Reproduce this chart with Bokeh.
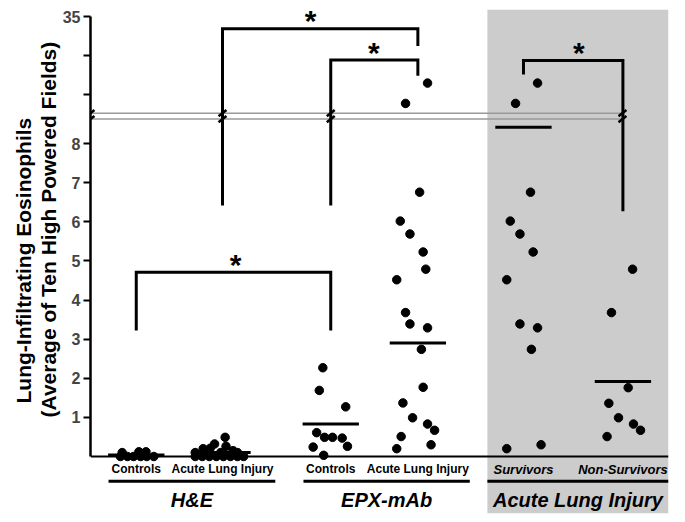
import numpy as np
from bokeh.plotting import figure
from bokeh.models import Range1d, FixedTicker, Title, NumeralTickFormatter
from bokeh.core.properties import value
from bokeh.embed import file_html
from bokeh.resources import INLINE

FONT = "Liberation Sans"

# ---------------- data ----------------
groups = ["H&E", "EPX-mAb", "Acute Lung Injury"]
categories = ["Controls", "Acute Lung Injury", "Controls", "Acute Lung Injury",
              "Survivors", "Non-Survivors"]

he_controls = [0.10, 0.12, 0.12, 0, 0, 0, 0, 0, 0]
he_ali = [0.49, 0.32, 0.20, 0.21, 0.26, 0.15, 0.10, 0.10, 0.10,
          0, 0, 0, 0, 0, 0, 0, 0]
epx_controls = [2.27, 1.69, 1.27, 0.61, 0.49, 0.49, 0.47, 0.24, 0.26, 0.03]
epx_ali = [26.5, 23.9, 6.76, 6.02, 5.69, 5.23, 4.79, 4.52, 3.68, 3.39, 3.29,
           2.74, 1.77, 1.37, 0.99, 0.83, 0.67, 0.51, 0.20, 0.30]
survivors = [26.5, 23.9, 6.76, 6.02, 5.69, 5.23, 4.52, 3.39, 3.29, 2.74,
             0.20, 0.30]
non_survivors = [4.79, 3.68, 1.76, 1.36, 0.99, 0.83, 0.67, 0.51]

means = [0.04, 0.10, 0.83, 2.90, 8.42, 1.92]

lower_ticks = [1, 2, 3, 4, 5, 6, 7, 8]
upper_ticks = [25, 30, 35]
upper_tick_labels = ["", "", "35"]

y_title_1 = "Lung-Infiltrating  Eosinophils"
y_title_2 = "(Average of Ten High Powered Fields)"

# ---------------- positions / layout ----------------
pos = [0.52, 1.50, 2.73, 3.72, 4.92, 6.05]
jit = [
    [-0.16, 0.03, 0.11, -0.18, -0.10, -0.03, 0.05, 0.12, 0.20],
    [0.03, -0.09, -0.22, -0.14, 0.04, 0.12, -0.31, -0.02, 0.17,
     -0.31, -0.23, -0.15, -0.07, 0.01, 0.09, 0.17, 0.24],
    [-0.09, -0.13, 0.17, -0.16, -0.07, 0.02, 0.13, -0.20, 0.19, -0.08],
    [0.11, -0.14, 0.02, -0.20, -0.09, 0.06, 0.09, -0.24, -0.14, -0.09,
     0.11, 0.04, 0.06, -0.17, -0.06, 0.11, 0.19, -0.19, -0.24, 0.15],
    [0.16, -0.09, 0.08, -0.15, -0.04, 0.11, -0.19, -0.04, 0.16, 0.09,
     -0.19, 0.20],
    [0.11, -0.13, 0.06, -0.16, -0.05, 0.12, 0.20, -0.18],
]
series = [he_controls, he_ali, epx_controls, epx_ali, survivors, non_survivors]

PX = 39.1  # pixels per lower-axis unit


def ty(v):
    """broken y axis: 0..8.6 linear, then 25..35 compressed (5 per unit)."""
    v = np.asarray(v, dtype=float)
    return np.where(v < 8.7, v, 11.25 - (35.0 - v) / 5.0)


p = figure(width=685, height=522, output_backend="svg", toolbar_location=None,
           x_range=Range1d(0, 6.568), y_range=Range1d(-1.458, 11.432),
           x_axis_location=None, min_border_left=90, min_border_right=17,
           min_border_top=9, min_border_bottom=9)
p.outline_line_color = None
p.xgrid.visible = False
p.ygrid.visible = False

# y axis
ax = p.yaxis[0]
tick_pos = list(lower_ticks) + [float(t) for t in ty(upper_ticks)]
ax.ticker = FixedTicker(ticks=tick_pos)
ax.formatter = NumeralTickFormatter(format="0")
ax.major_label_overrides = {float(t): lab for t, lab in zip(ty(upper_ticks), upper_tick_labels)}
ax.bounds = (0, float(ty(35)))
ax.axis_line_width = 2.5
ax.major_tick_line_width = 2
ax.major_tick_out = 7
ax.major_tick_in = 0
ax.minor_tick_line_color = None
ax.major_label_text_font = FONT
ax.major_label_text_font_style = "bold"
ax.major_label_text_font_size = "16px"
ax.major_label_standoff = 3

# y axis titles (two lines)
for txt, off in ((y_title_2, 96), (y_title_1, 110)):
    p.add_layout(Title(text=txt, align="left", offset=off, standoff=0,
                       text_font=FONT, text_font_style="bold",
                       text_font_size="21px", text_color="black"), "left")

# gray panel
p.quad(left=[4.51], right=[6.568], bottom=[-1.458], top=[11.432],
       fill_color="#cccccc", line_color=None)

# break lines
for yb in (8.63, 8.78):
    p.segment(x0=[0], y0=[yb], x1=[6.045], y1=[yb], line_color="#9a9a9a", line_width=1.5)

# baseline
p.segment(x0=[0], y0=[0], x1=[6.568], y1=[0], line_color="black", line_width=2)

# brackets
br_x1 = [pos[0], pos[1], pos[2], pos[4]]
br_x2 = [pos[2], pos[3], pos[3], pos[5]]
br_top = [4.71, 10.94, 10.14, 10.13]
br_e1 = [3.22, 6.42, 6.42, 9.77]
br_e2 = [3.22, 10.50, 9.74, 6.27]
p.multi_line(xs=[[a, a, b, b] for a, b in zip(br_x1, br_x2)],
             ys=[[e1, t, t, e2] for e1, t, e2 in zip(br_e1, br_top, br_e2)],
             line_color="black", line_width=3, line_join="miter")

# slashes on break
for xb in (0.0, pos[1], pos[2], 6.045):
    for yb in (8.63, 8.78):
        p.segment(x0=[xb - 0.045], y0=[yb - 0.08], x1=[xb + 0.045], y1=[yb + 0.08],
                  line_color="black", line_width=2.5)

# stars
star_x = [1.65, 2.50, 3.22, 5.55]
star_y = [5.01, 11.25, 10.43, 10.43]
p.text(x=star_x, y=[s - 4 / PX for s in star_y], text=["*"] * 4,
       text_font=value(FONT), text_font_style="bold", text_font_size="30px",
       text_align="center", text_baseline="alphabetic", text_color="black")

# mean lines
mt = ty(means)
p.segment(x0=[c - 0.32 for c in pos], y0=mt, x1=[c + 0.32 for c in pos], y1=mt,
          line_color="black", line_width=3)

# points
xs, ys = [], []
for c in range(6):
    for v, j in zip(series[c], jit[c]):
        xs.append(pos[c] + j)
        ys.append(float(ty(v)))
p.scatter(xs, ys, size=8.5, color="black")

# category labels
p.text(x=pos[:4], y=[-0.33] * 4, text=categories[:4], text_font=value(FONT),
       text_font_style="bold", text_font_size="12px", text_align="center",
       text_baseline="middle", text_color="black")
p.text(x=pos[4:], y=[-0.33] * 2, text=categories[4:], text_font=value(FONT),
       text_font_style="bold italic", text_font_size="13px", text_align="center",
       text_baseline="middle", text_color="black")

# group underline & labels
g_left = [0.205, 2.42, 4.51]
g_right = [2.10, 4.31, 6.568]
p.segment(x0=g_left, y0=[-0.63] * 3, x1=g_right, y1=[-0.63] * 3,
          line_color="black", line_width=3)
p.text(x=[(a + b) / 2 for a, b in zip(g_left, g_right)], y=[-1.125] * 3, text=groups,
       text_font=value(FONT), text_font_style="bold italic", text_font_size="20px",
       text_align="center", text_baseline="middle", text_color="black")

open("out.html", "w").write(file_html(p, INLINE))
